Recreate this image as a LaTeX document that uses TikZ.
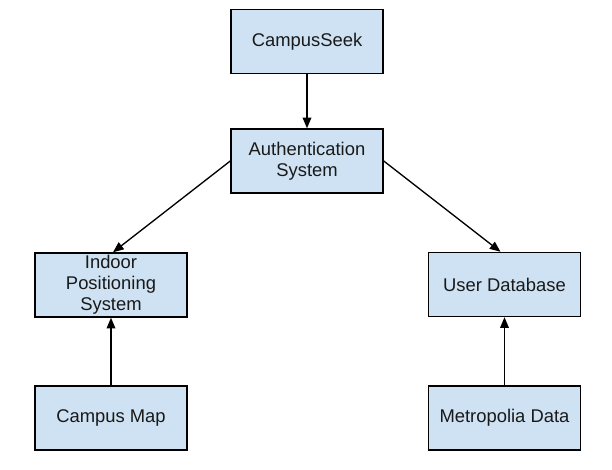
\documentclass[tikz,border=0pt]{standalone}
\usepackage{fontspec}
\setmainfont{Liberation Sans}
\usetikzlibrary{arrows.meta}
\definecolor{boxfill}{HTML}{CFE2F3}
\begin{document}
\begin{tikzpicture}[x=0.75pt,y=-0.75pt,
  box/.style={draw=black, line width=1.1pt, fill=boxfill, minimum width=114pt, minimum height=48pt,
    inner sep=0pt, align=center, font=\fontsize{13.8pt}{15.6pt}\selectfont, text=black!90},
  conn/.style={line width=1pt, -{Triangle[length=8pt,width=6.5pt]}}]
\useasboundingbox[fill=white] (0,0) rectangle (612,470);
\node[box] (cs) at (307,41.5) {CampusSeek};
\node[box] (auth) at (307,161) {Authentication\\System};
\node[box] (ips) at (111,285) {Indoor\\Positioning\\System};
\node[box] (udb) at (504.5,284.5) {User Database};
\node[box] (cm) at (111,418) {Campus Map};
\node[box] (md) at (504.5,418) {Metropolia Data};
\draw[conn] (cs.south) -- (auth.north);
\draw[conn] (auth.west) -- ([xshift=1.5pt]ips.north);
\draw[conn] (auth.east) -- ([xshift=-3pt]udb.north);
\draw[conn] (cm.north) -- (ips.south);
\draw[conn] (md.north) -- (udb.south);
\end{tikzpicture}
\end{document}
